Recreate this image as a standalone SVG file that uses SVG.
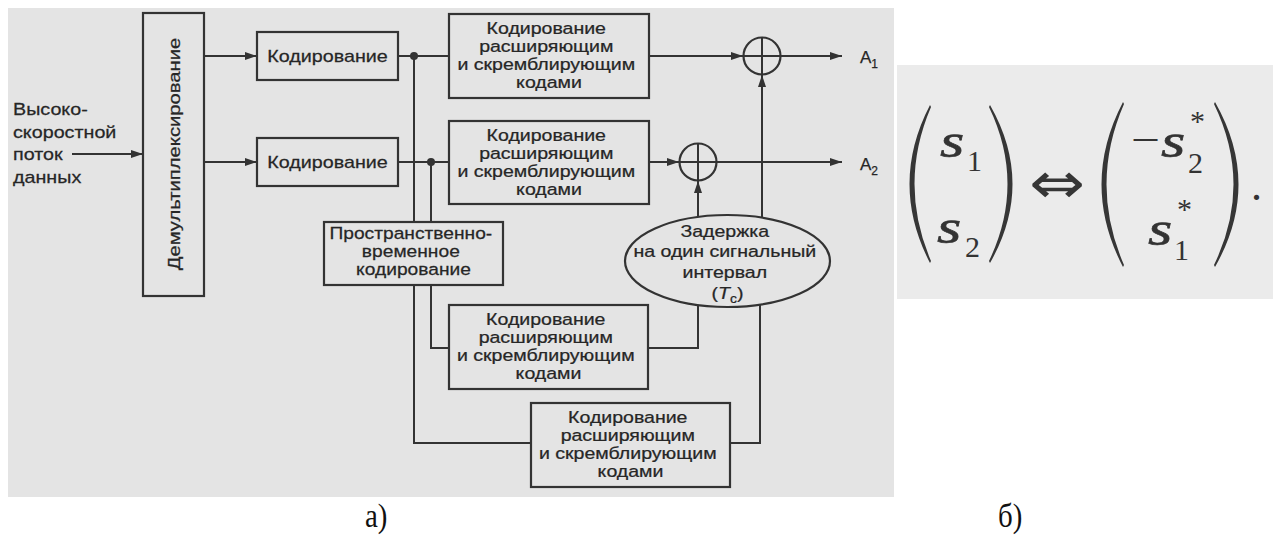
<svg xmlns="http://www.w3.org/2000/svg" width="1273" height="539" viewBox="0 0 1273 539">
  <defs>
    <marker id="arr" viewBox="0 0 12 8" refX="12" refY="4" markerWidth="12" markerHeight="8" markerUnits="userSpaceOnUse" orient="auto">
      <path d="M0,0 L12,4 L0,8 Z" fill="#333"/>
    </marker>
    <style>
      .panel { fill: #e4e4e4; }
      .box { fill: none; stroke: #333; stroke-width: 2.2; }
      .wire { fill: none; stroke: #333; stroke-width: 2; }
      .dot { fill: #333; }
      .t { font-family: "Liberation Sans", Arial, sans-serif; font-size: 17px; fill: #262626; stroke: #262626; stroke-width: 0.25; }
      .c { text-anchor: middle; }
      .m { font-family: "Liberation Serif", "Times New Roman", serif; fill: #333; }
      .mi { font-style: italic; font-size: 48px; stroke: #333; stroke-width: 0.6; }
      .ms { font-size: 30px; }
      .br { fill: #363636; }
      .cap { font-family: "Liberation Serif", "Times New Roman", serif; font-size: 34px; fill: #111; }
    </style>
  </defs>

  <rect width="1273" height="539" fill="#ffffff"/>

  <!-- panel а: block scheme -->
  <rect class="panel" x="8" y="8" width="886" height="489"/>
  <!-- panel б: formula -->
  <rect class="panel" x="897" y="65" width="376" height="234" style="fill:#ebebeb"/>

  <g id="source">
    <text class="t" transform="translate(13,0) scale(1.16,1)">
      <tspan x="0" y="115">Высоко-</tspan>
      <tspan x="0" y="138">скоростной</tspan>
      <tspan x="0" y="160">поток</tspan>
      <tspan x="0" y="183">данных</tspan>
    </text>
  </g>

  <g id="demux">
    <rect class="box" x="143" y="13" width="61" height="283"/>
    <text class="t c" transform="translate(180,154) rotate(-90) scale(1.19,1)" x="0" y="0">Демультиплексирование</text>
  </g>

  <g id="enc1">
    <rect class="box" x="257" y="32" width="141" height="48"/>
    <text class="t c" transform="translate(327.5,0) scale(1.16,1)" x="0" y="62">Кодирование</text>
  </g>
  <g id="enc2">
    <rect class="box" x="257" y="138" width="141" height="48"/>
    <text class="t c" transform="translate(327.5,0) scale(1.16,1)" x="0" y="168">Кодирование</text>
  </g>

  <g id="spread1">
    <rect class="box" x="449" y="14" width="200" height="84"/>
    <text class="t c" transform="translate(549,0) scale(1.15,1)">
      <tspan x="0" y="34">Кодирование</tspan>
      <tspan x="0" y="52">расширяющим</tspan>
      <tspan x="0" y="70">и скремблирующим</tspan>
      <tspan x="0" y="88">кодами</tspan>
    </text>
  </g>
  <g id="spread2">
    <rect class="box" x="449" y="121" width="200" height="83"/>
    <text class="t c" transform="translate(549,0) scale(1.15,1)">
      <tspan x="0" y="141">Кодирование</tspan>
      <tspan x="0" y="159">расширяющим</tspan>
      <tspan x="0" y="177">и скремблирующим</tspan>
      <tspan x="0" y="195">кодами</tspan>
    </text>
  </g>

  <g id="stc">
    <rect class="box" x="324" y="222" width="179" height="63"/>
    <text class="t c" transform="translate(413.5,0) scale(1.13,1)">
      <tspan x="0" y="239">Пространственно-</tspan>
      <tspan x="0" y="257">временное</tspan>
      <tspan x="0" y="275">кодирование</tspan>
    </text>
  </g>

  <g id="spread3">
    <rect class="box" x="449" y="305" width="199" height="84"/>
    <text class="t c" transform="translate(548.5,0) scale(1.15,1)">
      <tspan x="0" y="325">Кодирование</tspan>
      <tspan x="0" y="343">расширяющим</tspan>
      <tspan x="0" y="361">и скремблирующим</tspan>
      <tspan x="0" y="379">кодами</tspan>
    </text>
  </g>
  <g id="spread4">
    <rect class="box" x="531" y="403" width="199" height="84"/>
    <text class="t c" transform="translate(630.5,0) scale(1.15,1)">
      <tspan x="0" y="423">Кодирование</tspan>
      <tspan x="0" y="441">расширяющим</tspan>
      <tspan x="0" y="459">и скремблирующим</tspan>
      <tspan x="0" y="477">кодами</tspan>
    </text>
  </g>

  <g id="delay">
    <ellipse class="box" cx="727.5" cy="261" rx="102.5" ry="46"/>
    <text class="t c" transform="translate(727.5,0) scale(1.15,1)">
      <tspan x="0" y="237">Задержка</tspan>
      <tspan x="0" y="257">на один сигнальный</tspan>
      <tspan x="0" y="278">интервал</tspan>
      <tspan x="0" y="299">(<tspan font-style="italic">T</tspan><tspan font-size="12px" dy="4">c</tspan><tspan dy="-4">)</tspan></tspan>
    </text>
  </g>

  <g id="sum1">
    <circle class="box" cx="762" cy="56" r="18.5"/>
    <path class="wire" d="M743.5,56 H780.5 M762,37.5 V74.5"/>
  </g>
  <g id="sum2">
    <circle class="box" cx="698" cy="162" r="18.5"/>
    <path class="wire" d="M679.5,162 H716.5 M698,143.5 V180.5"/>
  </g>

  <g id="out1">
    <text class="t" x="860" y="63" font-size="19px">A<tspan font-size="12px" dy="5">1</tspan></text>
  </g>
  <g id="out2">
    <text class="t" x="860" y="170" font-size="19px">A<tspan font-size="12px" dy="5">2</tspan></text>
  </g>

  <g id="connectors">
    <path class="wire" d="M72,154 H143" marker-end="url(#arr)"/>
    <path class="wire" d="M204,56 H257" marker-end="url(#arr)"/>
    <path class="wire" d="M204,162 H257" marker-end="url(#arr)"/>
    <path class="wire" d="M398,56 H449"/>
    <path class="wire" d="M398,162 H449"/>
    <circle class="dot" cx="414" cy="56" r="4"/>
    <circle class="dot" cx="431" cy="162" r="4"/>
    <path class="wire" d="M414,56 V222"/>
    <path class="wire" d="M431,162 V222"/>
    <path class="wire" d="M414,285 V443 H531"/>
    <path class="wire" d="M431,285 V348 H449"/>
    <path class="wire" d="M649,56 H743" marker-end="url(#arr)"/>
    <path class="wire" d="M780.5,56 H842" marker-end="url(#arr)"/>
    <path class="wire" d="M649,162 H679" marker-end="url(#arr)"/>
    <path class="wire" d="M716.5,162 H842" marker-end="url(#arr)"/>
    <path class="wire" d="M762,217 V75" marker-end="url(#arr)"/>
    <path class="wire" d="M698,217 V181" marker-end="url(#arr)"/>
    <path class="wire" d="M648,348 H698 V305"/>
    <path class="wire" d="M730,443 H760 V305"/>
  </g>

  <!-- formula: (s1 s2) <=> (-s2*, s1*) -->
  <g id="formula">
    <path class="br" d="M930,105 Q889,184 930,263 L931,261 Q898,184 931,107 Z"/>
    <path class="br" d="M990,105 Q1035,184 990,263 L989,261 Q1026,184 989,107 Z"/>
    <path class="br" d="M1123,102 Q1080,184.5 1123,267 L1124,265 Q1089,184.5 1124,104 Z"/>
    <path class="br" d="M1215,102 Q1262,184.5 1215,267 L1214,265 Q1253,184.5 1214,104 Z"/>

    <text class="m mi" transform="translate(940,157) scale(1.3,1)">s</text>
    <text class="m ms" x="967" y="171">1</text>
    <text class="m mi" transform="translate(937,243) scale(1.3,1)">s</text>
    <text class="m ms" x="965" y="257">2</text>

    <text x="1029" y="203" font-family="'DejaVu Sans', sans-serif" font-size="58px" fill="#363636" textLength="56" lengthAdjust="spacingAndGlyphs">⇔</text>

    <text class="m" x="1131" y="154" font-size="42px" textLength="29" lengthAdjust="spacingAndGlyphs">−</text>
    <text class="m mi" transform="translate(1161,157) scale(1.3,1)">s</text>
    <text class="m ms" x="1188" y="173">2</text>
    <text class="m ms" x="1190" y="131">*</text>

    <text class="m mi" transform="translate(1148,245) scale(1.3,1)">s</text>
    <text class="m ms" x="1174" y="260">1</text>
    <text class="m ms" x="1177" y="219">*</text>

    <text class="m" x="1251" y="200" font-size="44px">.</text>
  </g>

  <text class="cap" transform="translate(365,0) scale(0.85,1)" x="0" y="527">а)</text>
  <text class="cap" transform="translate(998,0) scale(0.85,1)" x="0" y="527">б)</text>
</svg>
